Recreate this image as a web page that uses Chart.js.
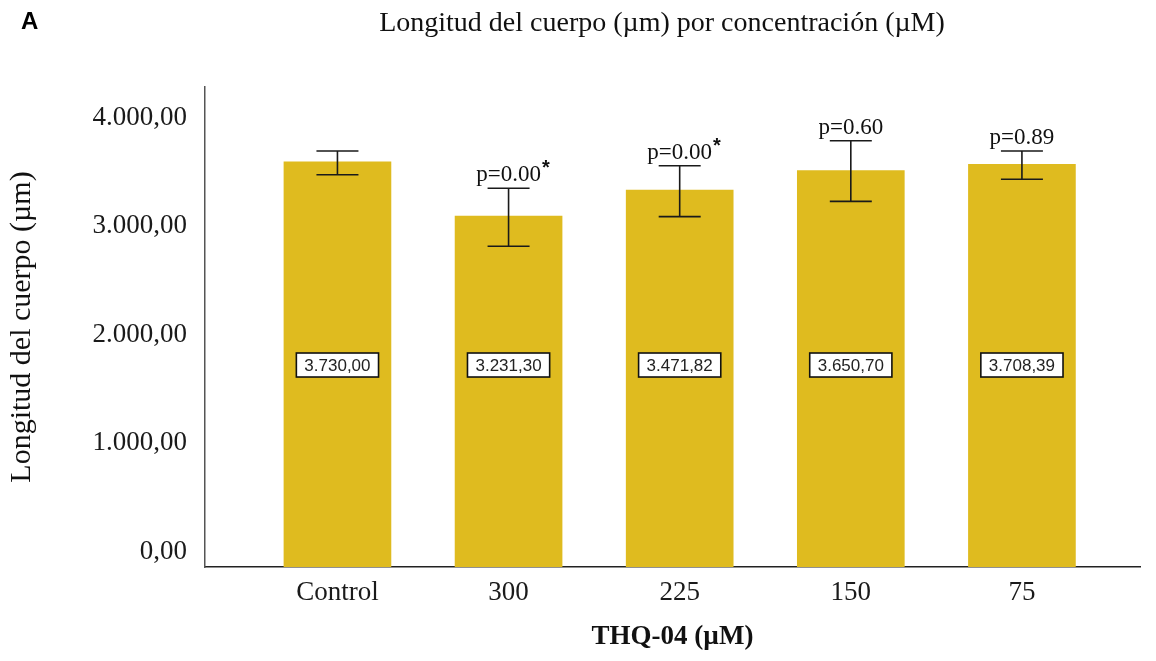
<!DOCTYPE html>
<html>
<head>
<meta charset="utf-8">
<script src="https://cdn.jsdelivr.net/npm/chart.js@4.4.1/dist/chart.umd.min.js"></script>
<style>
  html, body { margin: 0; padding: 0; background: #fff; }
</style>
</head>
<body>
<canvas id="chart" width="1156" height="661"></canvas>
<script>
// body length per THQ-04 concentration
const categories = ['Control', '300', '225', '150', '75'];
const meanLength = [3730.00, 3231.30, 3471.82, 3650.70, 3708.39];
const errLow = [3612, 2953, 3226, 3367, 3570];
const errHigh = [3831, 3487, 3695, 3925, 3831];
const pLabels = ['', 'p=0.00', 'p=0.00', 'p=0.60', 'p=0.89'];
const significant = [false, true, true, false, false];
const yTicks = [0, 1000, 2000, 3000, 4000];

const serif = "'Liberation Serif', 'Times New Roman', serif";
const labelLevel = 1860;

function fmt(v) {
    const parts = v.toFixed(2).split('.');
    return parts[0].replace(/\B(?=(\d{3})+(?!\d))/g, '.') + ',' + parts[1];
}

const annotations = {
    id: 'annotations',
    afterDatasetsDraw(chart) {
        const ctx = chart.ctx;
        const x = chart.scales.x;
        const y = chart.scales.y;
        ctx.save();

        categories.forEach((c, i) => {
            const cx = x.getPixelForValue(i);
            const top = y.getPixelForValue(errHigh[i]);
            const bot = y.getPixelForValue(errLow[i]);

            // error bar
            ctx.strokeStyle = '#1a1a1a';
            ctx.lineWidth = 1.6;
            ctx.beginPath();
            ctx.moveTo(cx, top); ctx.lineTo(cx, bot);
            ctx.moveTo(cx - 21, top); ctx.lineTo(cx + 21, top);
            ctx.moveTo(cx - 21, bot); ctx.lineTo(cx + 21, bot);
            ctx.stroke();

            // boxed mean value
            const txt = fmt(meanLength[i]);
            ctx.font = "17px 'Liberation Sans', Arial, sans-serif";
            const w = ctx.measureText(txt).width + 16;
            const h = 24;
            const cy = y.getPixelForValue(labelLevel);
            ctx.fillStyle = '#fff';
            ctx.fillRect(cx - w / 2, cy - h / 2, w, h);
            ctx.strokeStyle = '#111';
            ctx.strokeRect(cx - w / 2, cy - h / 2, w, h);
            ctx.fillStyle = '#222';
            ctx.textAlign = 'center';
            ctx.textBaseline = 'middle';
            ctx.fillText(txt, cx, cy + 1);

            // p-value above the error bar
            if (pLabels[i]) {
                ctx.font = '23px ' + serif;
                ctx.textBaseline = 'alphabetic';
                ctx.fillStyle = '#111';
                ctx.fillText(pLabels[i], cx, top - 7);
                if (significant[i]) {
                    const tw = ctx.measureText(pLabels[i]).width;
                    ctx.font = "bold 20px 'Liberation Sans', Arial, sans-serif";
                    ctx.textAlign = 'left';
                    ctx.fillText('*', cx + tw / 2 + 1, top - 14);
                    ctx.textAlign = 'center';
                }
            }
        });

        // panel letter and heading
        ctx.fillStyle = '#000';
        ctx.textBaseline = 'alphabetic';
        ctx.textAlign = 'left';
        ctx.font = "bold 24px 'Liberation Sans', Arial, sans-serif";
        ctx.fillText('A', 21, 29);
        ctx.textAlign = 'center';
        ctx.font = '28px ' + serif;
        ctx.fillStyle = '#111';
        ctx.fillText('Longitud del cuerpo (µm) por concentración (µM)', 662, 31);
        ctx.restore();
    }
};

const ctx = document.getElementById('chart').getContext('2d');
const myChart = new Chart(ctx, {
    type: 'bar',
    data: {
        datasets: [{
            data: meanLength.map((v, i) => ({ x: i, y: v })),
            backgroundColor: '#dfbb1f',
            barThickness: 107,
            borderWidth: 0
        }]
    },
    options: {
        responsive: false,
        animation: false,
        layout: { padding: { top: 87, right: 16, left: 0, bottom: 0 } },
        plugins: {
            legend: { display: false },
            tooltip: { enabled: false }
        },
        scales: {
            x: {
                type: 'linear',
                offset: false,
                min: -0.774,
                max: 4.69,
                grid: { display: false, drawTicks: false },
                border: { color: '#222', width: 1.5 },
                afterBuildTicks: s => { s.ticks = categories.map((c, i) => ({ value: i })); },
                ticks: {
                    callback: v => categories[v],
                    padding: 10,
                    autoSkip: false,
                    maxRotation: 0,
                    color: '#1a1a1a',
                    font: { family: serif, size: 27 }
                },
                title: {
                    display: true,
                    text: 'THQ-04 (µM)',
                    color: '#111',
                    font: { family: serif, size: 27, weight: 'bold' },
                    padding: { top: 0, bottom: 8 }
                },
                afterFit: s => { s.height = 94; }
            },
            y: {
                min: 0,
                max: 4420,
                grid: { display: false, drawTicks: false },
                border: { color: '#555', width: 1.5 },
                afterBuildTicks: s => { s.ticks = yTicks.map(v => ({ value: v })); },
                ticks: {
                    callback: v => fmt(v),
                    padding: 18,
                    labelOffset: -15,
                    color: '#1a1a1a',
                    font: { family: serif, size: 27 }
                },
                title: {
                    display: true,
                    text: 'Longitud del cuerpo (µm)',
                    color: '#111',
                    font: { family: serif, size: 30 },
                    padding: { top: 4, bottom: 0 }
                },
                afterFit: s => { s.width = 205; }
            }
        }
    },
    plugins: [annotations]
});
</script>
</body>
</html>
